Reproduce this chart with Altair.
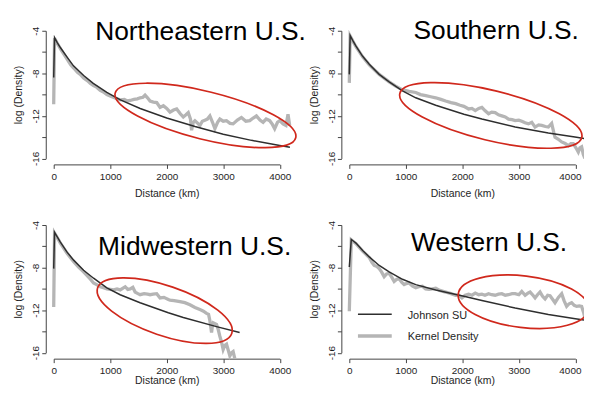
import math
import altair as alt
import pandas as pd

TITLES = ["Northeastern U.S.", "Southern U.S.", "Midwestern U.S.", "Western U.S."]
X_TICKS = [0, 1000, 2000, 3000, 4000]
Y_TICKS = [-4, -6, -8, -10, -12, -14, -16]
LEGEND_LABELS = ["Johnson SU", "Kernel Density"]

# (distance km, log density)
ne_johnson = [(0, -8.4), (15, -4.65), (60, -5.1), (120, -5.6), (240, -6.5), (350, -7.3), (530, -8.2),
              (700, -8.95), (940, -9.8), (1180, -10.5), (1530, -11.3), (2000, -12.2), (2500, -13.0),
              (3000, -13.72), (3500, -14.3), (4000, -14.78), (4180, -14.94)]
ne_kernel = [(0, -10.9), (15, -4.7), (60, -5.15), (120, -5.7), (180, -6.2), (240, -6.7), (300, -7.2),
             (353, -7.5), (420, -7.9), (470, -8.1), (529, -8.45), (600, -8.7), (650, -8.95), (705, -9.15),
             (760, -9.3), (823, -9.6), (880, -9.75), (941, -10.0), (1030, -10.2), (1100, -10.35),
             (1176, -10.5), (1250, -10.45), (1300, -10.6), (1353, -10.55), (1420, -10.45), (1480, -10.4),
             (1529, -10.3), (1580, -10.25), (1617, -10.05), (1660, -10.3), (1705, -10.6), (1764, -10.7),
             (1823, -10.75), (1882, -11.2), (1940, -11.05), (2000, -11.3), (2058, -11.65), (2120, -11.45),
             (2176, -11.35), (2240, -11.8), (2293, -12.1), (2340, -11.9), (2381, -11.7), (2420, -12.3),
             (2440, -13.35), (2470, -12.6), (2499, -12.45), (2550, -12.7), (2587, -12.9), (2630, -12.5),
             (2675, -12.4), (2720, -12.3), (2764, -12.0), (2810, -12.6), (2852, -13.2), (2900, -12.6),
             (2940, -12.3), (3000, -12.5), (3058, -12.45), (3120, -12.7), (3175, -12.75), (3250, -12.4),
             (3322, -12.15), (3400, -12.5), (3469, -12.45), (3530, -12.2), (3587, -12.0), (3650, -12.4),
             (3705, -12.6), (3760, -12.3), (3822, -12.45), (3870, -12.8), (3910, -13.2), (3960, -12.6),
             (4000, -12.45), (4058, -12.75), (4110, -12.9), (4146, -11.85), (4176, -12.9)]

so_johnson = [(0, -8.1), (15, -4.45), (60, -4.9), (118, -5.45), (236, -6.4), (353, -7.15), (529, -8.1),
              (705, -8.8), (941, -9.65), (1176, -10.3), (1529, -11.0), (2028, -11.85), (2346, -12.3),
              (2935, -13.05), (3522, -13.6), (4021, -14.0), (4169, -14.15)]
so_kernel = [(0, -8.9), (15, -4.5), (60, -4.95), (118, -5.5), (236, -6.45), (353, -7.2), (529, -8.1),
             (705, -8.8), (820, -9.2), (941, -9.55), (1060, -9.7), (1176, -9.8), (1260, -10.0),
             (1353, -10.1), (1440, -10.2), (1529, -10.3), (1620, -10.45), (1705, -10.6), (1800, -10.75),
             (1882, -10.85), (1960, -11.0), (2028, -11.1), (2111, -11.35), (2170, -11.3), (2229, -11.5),
             (2290, -11.3), (2346, -11.2), (2400, -11.5), (2464, -11.8), (2520, -11.65), (2581, -11.7),
             (2640, -11.9), (2699, -12.0), (2760, -12.1), (2817, -12.3), (2880, -12.35), (2935, -12.45),
             (3000, -12.4), (3052, -12.5), (3110, -12.65), (3170, -12.75), (3229, -12.6), (3287, -13.05),
             (3350, -12.85), (3405, -12.9), (3470, -13.0), (3522, -13.05), (3581, -12.7), (3620, -13.6),
             (3640, -14.0), (3700, -14.2), (3758, -14.45), (3820, -14.6), (3875, -14.8), (3920, -14.6),
             (3963, -14.6), (4010, -15.0), (4052, -15.4), (4080, -15.0), (4111, -14.9), (4140, -15.6),
             (4169, -16.0)]

mw_johnson = [(0, -8.1), (15, -4.7), (60, -5.1), (118, -5.6), (236, -6.55), (353, -7.3), (529, -8.25),
              (705, -9.0), (941, -9.9), (1176, -10.55), (1529, -11.3), (2028, -12.25), (2293, -12.7),
              (2881, -13.55), (3290, -14.1)]
mw_kernel = [(0, -11.7), (15, -4.75), (60, -5.15), (118, -5.7), (236, -6.65), (353, -7.45), (440, -7.95),
             (529, -8.4), (600, -8.8), (650, -9.1), (705, -9.45), (760, -9.6), (823, -9.8), (880, -9.9),
             (941, -10.0), (1000, -10.05), (1060, -10.1), (1120, -10.0), (1176, -10.1), (1220, -9.95),
             (1265, -9.8), (1310, -10.05), (1353, -10.0), (1400, -9.85), (1441, -10.3), (1490, -10.45),
             (1529, -10.55), (1600, -10.45), (1660, -10.5), (1705, -10.55), (1760, -10.5), (1823, -10.45),
             (1882, -10.85), (1950, -10.8), (2028, -11.0), (2058, -11.05), (2130, -11.1), (2234, -11.2),
             (2320, -11.3), (2411, -11.5), (2500, -11.75), (2587, -11.95), (2650, -12.1), (2705, -12.3),
             (2740, -12.4), (2764, -13.0), (2780, -13.6), (2793, -14.1), (2810, -13.4), (2822, -13.2),
             (2881, -13.35), (2910, -13.8), (2940, -14.45), (2970, -15.0), (2999, -15.7), (3030, -15.3),
             (3058, -15.2), (3090, -15.8), (3117, -16.3), (3150, -16.0), (3175, -15.9), (3205, -16.55)]

we_johnson = [(0, -7.95), (35, -5.35), (70, -5.5), (118, -5.7), (236, -6.4), (353, -7.0), (529, -7.8),
              (705, -8.4), (941, -9.1), (1176, -9.6), (1529, -10.1), (2028, -10.7), (2346, -11.1),
              (2935, -11.8), (3522, -12.4), (4000, -12.8), (4169, -12.95)]
we_kernel = [(0, -12.1), (35, -5.4), (70, -5.55), (118, -5.75), (236, -6.45), (353, -7.05), (400, -7.5),
             (441, -7.8), (490, -7.9), (529, -8.1), (570, -8.4), (617, -8.85), (660, -8.6), (705, -8.55),
             (750, -8.9), (794, -9.3), (840, -9.1), (882, -9.05), (930, -9.4), (970, -9.6), (1010, -9.5),
             (1058, -9.45), (1120, -9.75), (1176, -9.9), (1230, -9.8), (1294, -9.75), (1350, -10.0),
             (1411, -10.05), (1470, -10.0), (1529, -9.95), (1600, -10.15), (1705, -10.3), (1800, -10.45),
             (1882, -10.6), (1935, -10.6), (1993, -10.85), (2050, -10.6), (2111, -10.5), (2170, -10.6),
             (2229, -10.4), (2290, -10.55), (2346, -10.5), (2400, -10.6), (2464, -10.45), (2520, -10.55),
             (2581, -10.6), (2640, -10.5), (2699, -10.45), (2760, -10.6), (2817, -10.55), (2880, -10.45),
             (2935, -10.45), (3000, -10.55), (3052, -10.25), (3111, -10.6), (3160, -10.4), (3199, -10.3),
             (3250, -10.6), (3287, -10.85), (3330, -10.55), (3375, -10.3), (3420, -10.7), (3464, -10.95),
             (3510, -10.6), (3552, -10.65), (3600, -11.0), (3640, -11.3), (3700, -10.8), (3758, -10.45),
             (3800, -11.1), (3846, -11.65), (3890, -11.4), (3934, -11.3), (3980, -11.55), (4023, -11.65),
             (4070, -11.6), (4111, -11.65), (4150, -12.3), (4169, -12.75)]

# highlighted regions: centre (km, log density)
ellipse_centres = [(2685, -11.96), (2504, -11.96), (1964, -12.05), (3080, -11.21)]

FONT = "Liberation Sans"
W, H = 227.5, 128.5
BLACK = "#2e2e2e"
GRAY = "#b5b5b5"
RED = "#d0281c"
AXIS_COLOR = "#444444"
TEXT_COLOR = "#1e1e1e"


def ellipse_path(a, b, deg):
    """Unit-scaled (by a) bezier ellipse path, rotated by deg (clockwise on screen)."""
    k = 0.5523
    r = b / a
    t = math.radians(deg)
    c, s = math.cos(t), math.sin(t)

    def p(x, y):
        return f"{x * c - y * s:.4f},{x * s + y * c:.4f}"

    segs = [
        ((1, k * r), (k, r), (0, r)),
        ((-k, r), (-1, k * r), (-1, 0)),
        ((-1, -k * r), (-k, -r), (0, -r)),
        ((k, -r), (1, -k * r), (1, 0)),
    ]
    d = "M" + p(1, 0)
    for s1, s2, s3 in segs:
        d += " C" + p(*s1) + " " + p(*s2) + " " + p(*s3)
    return d + " Z"


def panel(title, title_style, johnson, kernel, centre, ell, right_col=False, bottom_row=False,
          legend=False):
    js = pd.DataFrame(johnson, columns=["km", "logd"])
    kd = pd.DataFrame(kernel, columns=["km", "logd"])
    ce = pd.DataFrame([centre], columns=["km", "logd"])

    label_offset = ({"condition": {"test": "datum.value == 4000", "value": -5.5}, "value": 0}
                    if right_col else 0)
    x = alt.X("km:Q",
              scale=alt.Scale(domain=[0, 4000], nice=False, zero=False),
              axis=alt.Axis(values=X_TICKS, format="d", title="Distance (km)", offset=6,
                            tickSize=4, labelPadding=3, titlePadding=0 if bottom_row else 7,
                            labelFontSize=10, labelOffset=label_offset,
                            titleFontSize=10.5, labelFont=FONT, titleFont=FONT,
                            titleFontWeight="normal", labelColor=TEXT_COLOR, titleColor=TEXT_COLOR,
                            domainColor=AXIS_COLOR, tickColor=AXIS_COLOR, grid=False,
                            labelFlush=False, labelOverlap=False))
    y = alt.Y("logd:Q",
              scale=alt.Scale(domain=[-16, -4], nice=False, zero=False),
              axis=alt.Axis(values=Y_TICKS, labelExpr="datum.value % 4 == 0 ? '' + datum.value : ''",
                            title="log (Density)", offset=8, tickSize=4, labelPadding=1,
                            labelAngle=270, labelAlign="center", labelBaseline="bottom",
                            titlePadding=7.3, labelFontSize=10, titleFontSize=10.5, labelFont=FONT,
                            titleFont=FONT, titleFontWeight="normal", labelColor=TEXT_COLOR,
                            titleColor=TEXT_COLOR, domainColor=AXIS_COLOR, tickColor=AXIS_COLOR,
                            grid=False, labelFlush=False, labelOverlap=False))

    kd_line = alt.Chart(kd).mark_line(color=GRAY, strokeWidth=3.3).encode(x=x, y=y)
    js_line = alt.Chart(js).mark_line(color=BLACK, strokeWidth=1.5).encode(x=x, y=y)
    a, b, ang = ell
    ellipse = alt.Chart(ce).mark_point(shape=ellipse_path(a, b, ang), filled=False, stroke=RED,
                                       strokeWidth=1.7, opacity=1, size=(2 * a) ** 2
                                       ).encode(x=x, y=y)
    tx, ty, talign = title_style
    ttl = alt.Chart(pd.DataFrame({"t": [title]})).mark_text(
        font=FONT, fontSize=26.5, align=talign, baseline="alphabetic", color="black"
    ).encode(x=alt.value(tx), y=alt.value(ty), text="t:N")
    layers = [kd_line, js_line, ellipse, ttl]
    if legend:
        for lab, col, sw, ly in [(LEGEND_LABELS[0], BLACK, 1.5, 89.7), (LEGEND_LABELS[1], GRAY, 3.3, 111.7)]:
            d = pd.DataFrame({"label": [lab]})
            layers.append(alt.Chart(d).mark_rule(color=col, strokeWidth=sw).encode(
                x=alt.value(8.7), x2=alt.value(42.7), y=alt.value(ly)))
            layers.append(alt.Chart(d).mark_text(font=FONT, fontSize=11, align="left",
                                                 baseline="middle", color=TEXT_COLOR).encode(
                x=alt.value(58.7), y=alt.value(ly + 1.5), text="label:N"))
    return alt.layer(*layers).properties(width=W, height=H)


p1 = panel(TITLES[0], (41.7, 9, "left"), ne_johnson, ne_kernel, ellipse_centres[0], (93.6, 24.1, 13.9))
p2 = panel(TITLES[1], (231, 8.4, "right"), so_johnson, so_kernel, ellipse_centres[1], (94.2, 25.2, 13.6),
           right_col=True)
p3 = panel(TITLES[2], (44.7, 30, "left"), mw_johnson, mw_kernel, ellipse_centres[2], (71.3, 25, 18.8),
           bottom_row=True)
p4 = panel(TITLES[3], (62.2, 26, "left"), we_johnson, we_kernel, ellipse_centres[3], (66, 26, 6.7),
           right_col=True, bottom_row=True, legend=True)

chart = alt.concat(
    p1, p2, p3, p4, columns=2, bounds="flush",
    spacing=alt.RowColnumber(row=66.5, column=69.5)
).configure_view(
    stroke=None
).properties(
    padding={"left": 5, "top": 8.7, "right": -8.3, "bottom": -1},
    background="white",
)

chart.save("out.html", embed_options={"renderer": "svg", "actions": False})
